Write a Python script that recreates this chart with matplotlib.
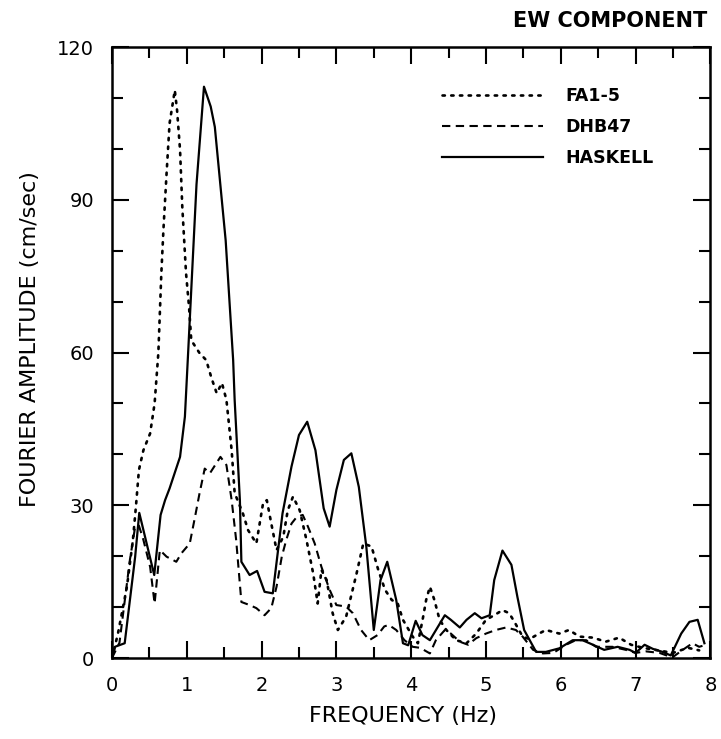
import matplotlib
matplotlib.use('Agg')
import matplotlib.pyplot as plt
from matplotlib.ticker import MultipleLocator

# HASKELL (solid)
has_f = [0.0, 0.04, 0.17, 0.24, 0.31, 0.365, 0.565, 0.65, 0.71, 0.77, 0.91, 0.975,
         1.02, 1.13, 1.23, 1.32, 1.375, 1.52, 1.62, 1.64, 1.71, 1.73, 1.84, 1.94,
         2.04, 2.15, 2.28, 2.40, 2.50, 2.61, 2.72, 2.83, 2.91, 3.00, 3.10, 3.20,
         3.30, 3.40, 3.50, 3.59, 3.68, 3.80, 3.89, 3.96, 4.06, 4.15, 4.25, 4.45,
         4.53, 4.65, 4.74, 4.85, 4.94, 5.05, 5.11, 5.22, 5.34, 5.42, 5.51, 5.67,
         5.80, 5.98, 6.16, 6.29, 6.43, 6.58, 6.76, 6.92, 7.00, 7.12, 7.23, 7.36,
         7.47, 7.61, 7.72, 7.83, 7.92]
has_a = [0, 2.2, 2.9, 11.4, 19.9, 28.5, 16.3, 28.1, 31.0, 33.3, 39.5, 47.4,
         60.5, 93.0, 112.2, 108.3, 104.3, 82.0, 58.5, 50.7, 31.0, 18.9, 16.3, 17.1,
         13.0, 12.7, 28.4, 37.6, 43.8, 46.4, 40.8, 29.4, 25.8, 33.0, 38.9, 40.2,
         33.6, 21.9, 5.5, 15.3, 18.9, 11.4, 2.9, 2.5, 7.3, 4.5, 3.5, 8.4,
         7.5, 6.0, 7.5, 8.8, 7.8, 8.4, 15.3, 21.1, 18.3, 12.0, 5.5, 1.2,
         1.2, 1.9, 3.5, 3.5, 2.6, 1.6, 2.2, 1.6, 1.0, 2.6, 1.8, 1.2,
         0.5, 4.8, 7.1, 7.5, 2.9]

# FA1-5 (dotted)
fa_f = [0.0, 0.08, 0.2, 0.28, 0.32, 0.36, 0.42, 0.51, 0.57, 0.62, 0.66, 0.69,
        0.73, 0.77, 0.84, 0.87, 0.91, 0.94, 0.99, 1.03, 1.06, 1.17, 1.26, 1.33,
        1.40, 1.47, 1.53, 1.60, 1.64, 1.75, 1.82, 1.93, 2.02, 2.07, 2.13, 2.20,
        2.29, 2.35, 2.42, 2.51, 2.60, 2.69, 2.75, 2.80, 2.87, 2.95, 3.02, 3.13,
        3.27, 3.36, 3.47, 3.56, 3.65, 3.74, 3.82, 3.89, 4.02, 4.09, 4.16, 4.20,
        4.25, 4.31, 4.38, 4.47, 4.60, 4.74, 4.87, 5.00, 5.11, 5.22, 5.31, 5.38,
        5.49, 5.58, 5.71, 5.80, 5.98, 6.11, 6.25, 6.43, 6.60, 6.78, 6.94, 7.1,
        7.3, 7.5, 7.7, 7.85]
fa_a = [0, 4.8, 14, 23.2, 29.7, 36.9, 40.8, 44.1, 50, 59.9, 75.6, 84.7,
        95.2, 105, 111.5, 107.6, 99.8, 88.6, 75.6, 69, 62.4, 59.9, 58.5, 55,
        52, 54, 50.7, 40.8, 32.4, 28.4, 25.1, 22.5, 30.4, 31, 26.4, 21.2,
        23.8, 29, 31.7, 29, 23.2, 16.6, 10.7, 17.3, 15.3, 8.8, 5.5, 8.1,
        16.6, 22.5, 21.9, 17.3, 13.4, 11.4, 10.7, 7.5, 4.2, 2.9, 8.1, 11.4,
        14, 11.4, 7.5, 5.5, 3.5, 2.9, 4.8, 7.5, 8.4, 9.4, 8.8, 7.1,
        4.2, 3.7, 4.8, 5.5, 4.8, 5.5, 4.2, 4.0, 3.2, 4.0, 2.6, 2.0,
        1.5, 1.0, 2.0, 1.5]

# DHB47 (dashed)
dhb_f = [0.0, 0.1, 0.24, 0.31, 0.36, 0.42, 0.51, 0.57, 0.64, 0.73, 0.86, 0.93,
         1.04, 1.11, 1.17, 1.24, 1.31, 1.38, 1.45, 1.53, 1.60, 1.66, 1.73, 1.84,
         1.93, 2.04, 2.13, 2.20, 2.27, 2.33, 2.40, 2.47, 2.55, 2.62, 2.71, 2.80,
         2.91, 3.00, 3.13, 3.22, 3.33, 3.44, 3.55, 3.64, 3.70, 3.80, 3.91, 4.02,
         4.12, 4.25, 4.33, 4.45, 4.53, 4.65, 4.76, 4.87, 5.00, 5.13, 5.27, 5.40,
         5.49, 5.63, 5.76, 5.90, 6.07, 6.20, 6.34, 6.47, 6.69, 6.87, 7.00, 7.14,
         7.32, 7.49, 7.63, 7.76, 7.85, 7.92]
dhb_a = [0, 3.0, 19.3, 25.8, 26.0, 23.2, 17.9, 10.7, 21.2, 19.9, 18.9, 20.6,
         22.5, 27.7, 32.3, 37.2, 36.3, 37.9, 39.5, 37.9, 31.0, 23.2, 11.0, 10.4,
         9.8, 8.4, 9.8, 14.0, 19.9, 23.2, 26.4, 27.7, 28.1, 25.8, 22.5, 17.9,
         13.4, 10.4, 10.1, 8.8, 5.5, 3.5, 4.5, 6.2, 6.5, 5.5, 3.5, 2.2,
         2.0, 0.9, 3.5, 5.5, 4.8, 3.2, 2.6, 3.9, 4.8, 5.5, 6.0, 5.5,
         4.2, 1.6, 0.9, 1.0, 2.6, 3.5, 3.5, 2.2, 2.2, 1.6, 1.0, 1.3,
         1.0, 0.1, 1.6, 2.9, 2.2, 2.5]

fig = plt.figure(figsize=(7.21, 7.39), dpi=100)
ax = fig.add_axes([0.1553, 0.1096, 0.8300, 0.8268])

ax.plot(fa_f, fa_a, color='black', lw=1.9, linestyle=(0, (0.9, 2.4)),
        dash_capstyle='round', label='FA1-5')
ax.plot(dhb_f, dhb_a, color='black', lw=1.5, linestyle=(0, (4.0, 2.6)),
        label='DHB47')
ax.plot(has_f, has_a, color='black', lw=1.6, label='HASKELL')

ax.set_xlim(0, 8)
ax.set_ylim(0, 120)
ax.xaxis.set_major_locator(MultipleLocator(1))
ax.xaxis.set_minor_locator(MultipleLocator(0.5))
ax.yaxis.set_major_locator(MultipleLocator(30))
ax.yaxis.set_minor_locator(MultipleLocator(10))
ax.tick_params(which='both', direction='in', top=True, right=True, width=1.5,
               labelsize=14, pad=13)
ax.tick_params(which='major', length=12)
ax.tick_params(which='minor', length=8)
for s in ax.spines.values():
    s.set_linewidth(1.8)

ax.set_xlabel('FREQUENCY (Hz)', fontsize=16, labelpad=8, x=0.486)
ax.set_ylabel('FOURIER AMPLITUDE (cm/sec)', fontsize=16, labelpad=12, y=0.522)
fig.text(0.981, 0.972, 'EW COMPONENT', ha='right', va='center',
         fontsize=15, fontweight='bold')

ax.legend(loc='upper left', bbox_to_anchor=(0.552, 0.935), frameon=False,
          handlelength=5.8, handletextpad=1.3, labelspacing=0.75,
          borderpad=0, borderaxespad=0,
          prop={'size': 12.5, 'weight': 'bold'})

fig.savefig('out.png', dpi=100)
